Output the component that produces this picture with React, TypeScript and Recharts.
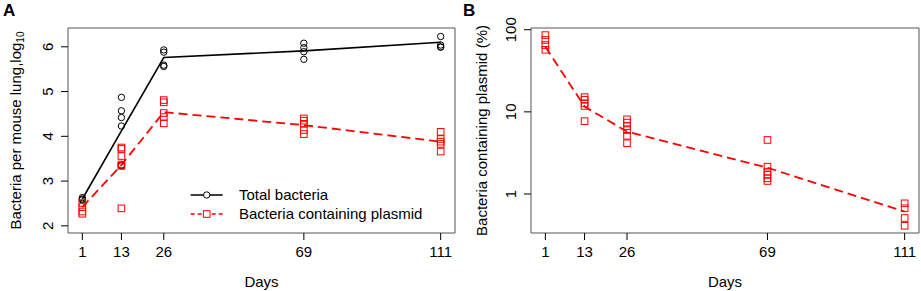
import React from 'react'
import {
  ComposedChart,
  Line,
  Scatter,
  XAxis,
  YAxis,
  ReferenceArea,
  Legend,
} from 'recharts'

// sampling days
const days = [1, 13, 26, 69, 111]

// panel A: log10 bacteria per lung, one list per day
const totalPoints = [
  [2.63, 2.6, 2.58],
  [4.87, 4.57, 4.42, 4.23, 3.34, 3.36],
  [5.93, 5.88, 5.59, 5.56],
  [6.08, 5.98, 5.89, 5.72],
  [6.23, 6.04, 6.0, 5.99],
]
const plasmidPoints = [
  [2.51, 2.42, 2.32, 2.27],
  [3.75, 3.72, 3.56, 3.37, 3.34, 2.39],
  [4.81, 4.76, 4.52, 4.43, 4.29],
  [4.4, 4.35, 4.28, 4.14, 4.05],
  [4.1, 3.94, 3.88, 3.83, 3.66],
]
const totalMean = [2.6, 4.12, 5.76, 5.91, 6.1]
const plasmidMean = [2.42, 3.36, 4.54, 4.25, 3.88]

// panel B: % of bacteria containing plasmid
const percentPoints = [
  [86, 75, 65, 57],
  [15.1, 14, 12.7, 11.8, 7.7],
  [8.1, 7.4, 6.7, 6.0, 5.1, 4.15],
  [4.55, 2.15, 1.87, 1.71, 1.55, 1.44],
  [0.77, 0.67, 0.51, 0.41],
]
const percentMean = [62, 11.6, 5.74, 2.09, 0.61]

const ticksA = [2, 3, 4, 5, 6]
const ticksB = [1, 10, 100]

const FONT = '"Liberation Sans", Arial, sans-serif'
const RED = '#ff0000'

const flat = (lists: number[][]) =>
  lists.flatMap((vals, i) => vals.map((v) => ({ day: days[i], value: v })))
const means = (vals: number[]) => vals.map((v, i) => ({ day: days[i], value: v }))

const OpenCircle = (p: any) => (
  <circle cx={p.cx} cy={p.cy} r={3.2} fill="none" stroke="#000" strokeWidth={1} />
)
const OpenSquare = (p: any) => (
  <rect x={p.cx - 3.3} y={p.cy - 3.3} width={6.6} height={6.6} fill="none" stroke={RED} strokeWidth={1} />
)

const YTick = (p: any) => (
  <text
    x={p.x}
    y={p.y}
    transform={`rotate(-90 ${p.x} ${p.y})`}
    textAnchor="middle"
    fontSize={15}
    fontFamily={FONT}
    fill="#000"
  >
    {p.payload.value}
  </text>
)

const XTick = (p: any) => (
  <text x={p.x} y={p.y} dy="0.71em" textAnchor="middle" fontSize={15} fontFamily={FONT} fill="#000">
    {p.payload.value}
  </text>
)

const yTitle = (text: string, sub: string | null, dx: number) => (props: any) => {
  const vb = props.viewBox || {}
  const x = (vb.x || 0) + dx
  const y = 28 + 102.5
  return (
    <text
      x={x}
      y={y}
      transform={`rotate(-90 ${x} ${y})`}
      textAnchor="middle"
      fontSize={15}
      fontFamily={FONT}
      fill="#000"
    >
      {text}
      {sub && (
        <tspan fontSize={10} dy={3}>
          {sub}
        </tspan>
      )}
    </text>
  )
}

const LegendBox = () => (
  <svg width={270} height={42} style={{ display: 'block' }}>
    <line x1={5.7} x2={37.7} y1={12} y2={12} stroke="#000" strokeWidth={1.5} />
    <circle cx={21.7} cy={12} r={3.2} fill="#fff" stroke="#000" />
    <text x={54} y={17.3} fontSize={15} fontFamily={FONT} fill="#000">
      Total bacteria
    </text>
    <line x1={5.7} x2={37.7} y1={31} y2={31} stroke={RED} strokeWidth={1.5} strokeDasharray="4 3" />
    <rect x={18.4} y={27.7} width={6.6} height={6.6} fill="#fff" stroke={RED} />
    <text x={54} y={36.3} fontSize={15} fontFamily={FONT} fill="#000">
      Bacteria containing plasmid
    </text>
  </svg>
)

const xDomain = [-3.4, 115.4]

export default function App() {
  return (
    <div style={{ position: 'absolute', left: 0, top: 0, width: 921, height: 291, background: '#fff' }}>
      <div style={{ position: 'absolute', left: 0, top: 0 }}>
        <ComposedChart width={460} height={291} margin={{ top: 28, right: 5, bottom: 0, left: 0 }}>
          <XAxis
            type="number"
            dataKey="day"
            domain={xDomain}
            ticks={days}
            interval={0}
            allowDataOverflow
            axisLine={false}
            tickSize={7}
            tickMargin={6}
            tickLine={{ stroke: '#000' }}
            tick={<XTick />}
            height={58}
            label={{ value: 'Days', position: 'insideBottom', offset: 4, fontSize: 15, fontFamily: FONT, fill: '#000' }}
          />
          <YAxis
            type="number"
            dataKey="value"
            domain={[1.84, 6.42]}
            ticks={ticksA}
            interval={0}
            allowDataOverflow
            axisLine={false}
            tickSize={7}
            tickMargin={7.5}
            tickLine={{ stroke: '#000' }}
            tick={<YTick />}
            width={68}
            label={yTitle('Bacteria per mouse lung,log', '10', 21)}
          />
          <ReferenceArea x1={xDomain[0]} x2={xDomain[1]} y1={1.84} y2={6.42} fill="none" stroke="#555" strokeWidth={1} ifOverflow="visible" />
          <Line data={means(totalMean)} dataKey="value" stroke="#000" strokeWidth={1.6} dot={false} isAnimationActive={false} />
          <Line data={means(plasmidMean)} dataKey="value" stroke={RED} strokeWidth={1.8} strokeDasharray="9 5" dot={false} isAnimationActive={false} />
          <Scatter data={flat(totalPoints)} dataKey="value" shape={<OpenCircle />} isAnimationActive={false} />
          <Scatter data={flat(plasmidPoints)} dataKey="value" shape={<OpenSquare />} isAnimationActive={false} />
          <Legend
            layout="horizontal"
            verticalAlign="middle"
            align="center"
            wrapperStyle={{ left: 185, top: 183, width: 270 }}
            content={() => <LegendBox />}
          />
        </ComposedChart>
      </div>
      <div style={{ position: 'absolute', left: 460, top: 0 }}>
        <ComposedChart width={461} height={291} margin={{ top: 28, right: 2, bottom: 0, left: 0 }}>
          <XAxis
            type="number"
            dataKey="day"
            domain={xDomain}
            ticks={days}
            interval={0}
            allowDataOverflow
            axisLine={false}
            tickSize={7}
            tickMargin={6}
            tickLine={{ stroke: '#000' }}
            tick={<XTick />}
            height={58}
            label={{ value: 'Days', position: 'insideBottom', offset: 4, fontSize: 15, fontFamily: FONT, fill: '#000' }}
          />
          <YAxis
            type="number"
            dataKey="value"
            scale="log"
            domain={[0.335, 104.9]}
            ticks={ticksB}
            interval={0}
            allowDataOverflow
            axisLine={false}
            tickSize={7}
            tickMargin={7.5}
            tickLine={{ stroke: '#000' }}
            tick={<YTick />}
            width={71}
            label={yTitle('Bacteria containing plasmid (%)', null, 27)}
          />
          <ReferenceArea x1={xDomain[0]} x2={xDomain[1]} y1={0.335} y2={104.9} fill="none" stroke="#555" strokeWidth={1} ifOverflow="visible" />
          <Line data={means(percentMean)} dataKey="value" stroke={RED} strokeWidth={1.8} strokeDasharray="9 5" dot={false} isAnimationActive={false} />
          <Scatter data={flat(percentPoints)} dataKey="value" shape={<OpenSquare />} isAnimationActive={false} />
        </ComposedChart>
      </div>
      <div style={{ position: 'absolute', left: 3, top: 0, fontFamily: FONT, fontWeight: 'bold', fontSize: 17, lineHeight: '22px' }}>A</div>
      <div style={{ position: 'absolute', left: 463, top: 0, fontFamily: FONT, fontWeight: 'bold', fontSize: 17, lineHeight: '22px' }}>B</div>
    </div>
  )
}
